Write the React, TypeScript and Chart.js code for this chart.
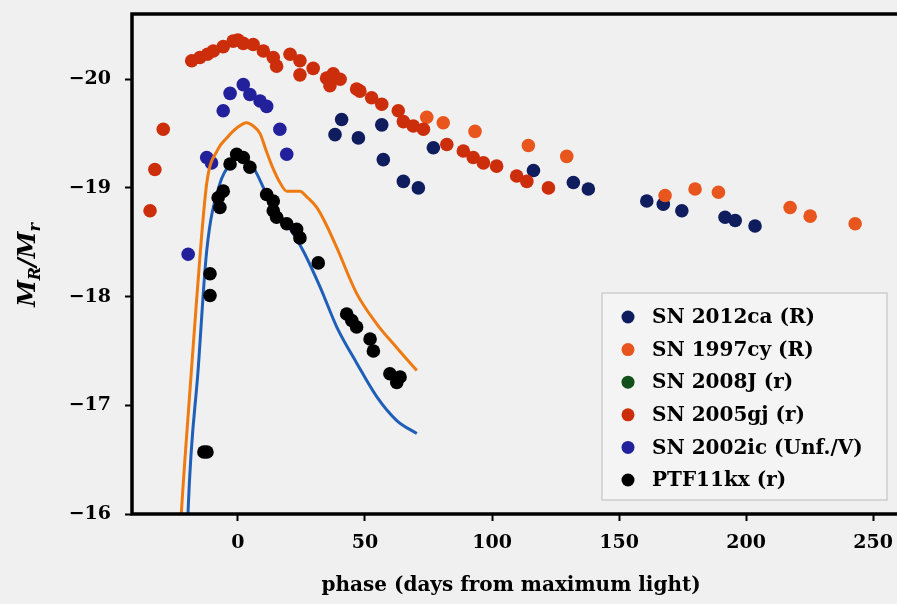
import React, { useEffect, useRef } from "react";
import { Chart, registerables } from "chart.js";

Chart.register(...registerables);

// Axis ticks
const X_TICKS = [0, 50, 100, 150, 200, 250];
const Y_TICKS = [-20, -19, -18, -17, -16];

// SN 2012ca (R)
const SN2012CA_PHASE = [38.2, 40.8, 47.4, 56.6, 57.2, 65.1, 71.0, 76.9, 116.3, 132.0, 137.9, 160.9, 167.4, 174.7, 191.7, 195.7, 203.5];
const SN2012CA_MAG = [-19.49, -19.63, -19.46, -19.58, -19.26, -19.06, -19.0, -19.37, -19.16, -19.05, -18.99, -18.88, -18.85, -18.79, -18.73, -18.7, -18.65];

// SN 1997cy (R)
const SN1997CY_PHASE = [74.3, 80.8, 93.3, 114.3, 129.4, 168.1, 179.9, 189.1, 217.3, 225.2, 242.9];
const SN1997CY_MAG = [-19.65, -19.6, -19.52, -19.39, -19.29, -18.93, -18.99, -18.96, -18.82, -18.74, -18.67];

// SN 2008J (r)
const SN2008J_PHASE: number[] = [];
const SN2008J_MAG: number[] = [];

// SN 2005gj (r)
const SN2005GJ_PHASE = [
  -34.6, -32.7, -29.4, -18.2, -15.0, -12.0, -9.7, -5.8, -1.9, 0.0, 2.1, 6.0, 10.0, 13.9, 15.2, 20.5, 24.4, 24.4,
  29.6, 34.9, 36.2, 37.5, 40.2, 46.7, 48.0, 52.6, 56.6, 63.1, 65.1, 69.0, 73.0, 82.2, 88.7, 92.6, 96.6, 101.8,
  109.7, 113.7, 122.2,
];
const SN2005GJ_MAG = [
  -18.79, -19.17, -19.54, -20.17, -20.2, -20.23, -20.26, -20.3, -20.35, -20.36, -20.33, -20.32, -20.26, -20.2,
  -20.12, -20.23, -20.17, -20.04, -20.1, -20.01, -19.94, -20.05, -20.0, -19.91, -19.89, -19.83, -19.77, -19.71,
  -19.61, -19.57, -19.54, -19.4, -19.34, -19.28, -19.23, -19.2, -19.11, -19.06, -19.0,
];

// SN 2002ic (Unf./V)
const SN2002IC_PHASE = [-19.6, -12.3, -10.4, -5.8, -3.1, 2.1, 4.7, 8.7, 11.3, 16.5, 19.2];
const SN2002IC_MAG = [-18.39, -19.28, -19.23, -19.71, -19.87, -19.95, -19.86, -19.8, -19.75, -19.54, -19.31];

// PTF11kx (r)
const PTF11KX_PHASE = [
  -13.4, -12.2, -11.0, -11.0, -7.8, -7.1, -5.8, -3.1, -0.5, 2.1, 4.7, 11.3, 13.9, 13.9, 15.2, 19.2, 23.1, 24.4,
  31.6, 42.8, 44.8, 46.7, 52.0, 53.3, 59.8, 62.5, 63.8,
];
const PTF11KX_MAG = [
  -16.57, -16.57, -18.21, -18.01, -18.91, -18.82, -18.97, -19.22, -19.31, -19.28, -19.19, -18.94, -18.88, -18.79,
  -18.73, -18.67, -18.62, -18.54, -18.31, -17.84, -17.78, -17.72, -17.61, -17.5, -17.29, -17.21, -17.26,
];

// Model light curves
const MODEL_A_PHASE = [-23, -22.2, -19, -16.3, -12.3, -8, -4.4, 0, 3.4, 6, 8.7, 11, 13.8, 16.5, 19.2, 24.4, 27, 31, 35, 38.9, 46.7, 54.6, 62.5, 70.4];
const MODEL_A_MAG = [-15.7, -16.04, -17.1, -17.96, -19.04, -19.35, -19.46, -19.56, -19.6, -19.57, -19.5, -19.35, -19.18, -19.05, -18.97, -18.97, -18.92, -18.82, -18.65, -18.45, -18.03, -17.75, -17.53, -17.32];
const MODEL_B_PHASE = [-20, -19.6, -15.6, -12.3, -7.1, -1.9, 0.8, 6, 12.6, 19.2, 25.7, 32.3, 38.9, 46.7, 54.6, 62.5, 70.4];
const MODEL_B_MAG = [-15.7, -16.04, -17.35, -18.42, -19.04, -19.25, -19.31, -19.19, -18.88, -18.67, -18.42, -18.09, -17.72, -17.39, -17.08, -16.86, -16.74];

const SERIF = "'DejaVu Serif', serif";
const BG = "#f0f0f0";

const pts = (xs: number[], ys: number[]) => xs.map((x, i) => ({ x, y: ys[i] }));
const fmt = (v: number) => (v < 0 ? "\u2212" + Math.abs(v) : String(v));

const scatter = (label: string, color: string, xs: number[], ys: number[], order: number) => ({
  type: "scatter" as const,
  label,
  data: pts(xs, ys),
  backgroundColor: color,
  borderColor: color,
  borderWidth: 0,
  pointRadius: 6.8,
  pointHoverRadius: 6.8,
  order,
});

const line = (color: string, xs: number[], ys: number[], order: number) => ({
  type: "line" as const,
  label: "",
  data: pts(xs, ys),
  borderColor: color,
  backgroundColor: color,
  borderWidth: 3,
  pointRadius: 0,
  cubicInterpolationMode: "monotone" as const,
  fill: false,
  order,
});

const background = {
  id: "background",
  beforeDraw(chart: any) {
    const { ctx, width, height } = chart;
    ctx.save();
    ctx.fillStyle = BG;
    ctx.fillRect(0, 0, width, height);
    ctx.restore();
  },
};

const frame = {
  id: "frame",
  afterDatasetsDraw(chart: any) {
    const { ctx, chartArea, width } = chart;
    ctx.save();
    ctx.strokeStyle = "#000";
    ctx.lineWidth = 3.5;
    ctx.lineCap = "square";
    ctx.beginPath();
    ctx.moveTo(width, chartArea.top);
    ctx.lineTo(chartArea.left, chartArea.top);
    ctx.lineTo(chartArea.left, chartArea.bottom);
    ctx.lineTo(width, chartArea.bottom);
    ctx.stroke();
    ctx.restore();
  },
};

const yTitle = {
  id: "yTitle",
  afterDraw(chart: any) {
    const ctx = chart.ctx;
    const parts = [
      { t: "M", sub: false },
      { t: "R", sub: true },
      { t: "/", sub: false },
      { t: "M", sub: false },
      { t: "r", sub: true },
    ];
    const big = `italic bold 24px ${SERIF}`;
    const small = `italic bold 16px ${SERIF}`;
    ctx.save();
    let total = 0;
    for (const p of parts) {
      ctx.font = p.sub ? small : big;
      total += ctx.measureText(p.t).width;
    }
    ctx.translate(30, 265);
    ctx.rotate(-Math.PI / 2);
    ctx.fillStyle = "#000";
    ctx.textBaseline = "alphabetic";
    let u = -total / 2;
    for (const p of parts) {
      ctx.font = p.sub ? small : big;
      ctx.fillText(p.t, u, p.sub ? 10 : 5);
      u += ctx.measureText(p.t).width;
    }
    ctx.restore();
  },
};

const legendBox = {
  id: "legendBox",
  afterDraw(chart: any) {
    const ctx = chart.ctx;
    const items = chart.data.datasets.filter((d: any) => d.type === "scatter");
    const order = ["SN 2012ca (R)", "SN 1997cy (R)", "SN 2008J (r)", "SN 2005gj (r)", "SN 2002ic (Unf./V)", "PTF11kx (r)"];
    items.sort((a: any, b: any) => order.indexOf(a.label) - order.indexOf(b.label));
    ctx.save();
    ctx.fillStyle = "rgba(244,244,244,0.85)";
    ctx.strokeStyle = "#cdcdcd";
    ctx.lineWidth = 1.5;
    ctx.beginPath();
    ctx.rect(602, 293, 285, 207);
    ctx.fill();
    ctx.stroke();
    ctx.font = `bold 20px ${SERIF}`;
    ctx.textBaseline = "middle";
    ctx.textAlign = "left";
    items.forEach((d: any, i: number) => {
      const cy = 317 + i * 32.6;
      ctx.fillStyle = d.backgroundColor;
      ctx.beginPath();
      ctx.arc(628, cy, 6.5, 0, Math.PI * 2);
      ctx.fill();
      ctx.fillStyle = "#000";
      ctx.fillText(d.label, 652, cy + 1);
    });
    ctx.restore();
  },
};

export default function App() {
  const ref = useRef<HTMLCanvasElement>(null);

  useEffect(() => {
    const canvas = ref.current;
    if (!canvas) return;
    const chart = new Chart(canvas, {
      data: {
        datasets: [
          scatter("PTF11kx (r)", "#000000", PTF11KX_PHASE, PTF11KX_MAG, 0),
          line("#ee7a12", MODEL_A_PHASE, MODEL_A_MAG, 1),
          line("#1f5fb8", MODEL_B_PHASE, MODEL_B_MAG, 2),
          scatter("SN 2002ic (Unf./V)", "#23209c", SN2002IC_PHASE, SN2002IC_MAG, 3),
          scatter("SN 2005gj (r)", "#cc2e0c", SN2005GJ_PHASE, SN2005GJ_MAG, 4),
          scatter("SN 2008J (r)", "#12501a", SN2008J_PHASE, SN2008J_MAG, 5),
          scatter("SN 1997cy (R)", "#e8561d", SN1997CY_PHASE, SN1997CY_MAG, 6),
          scatter("SN 2012ca (R)", "#0f1c5e", SN2012CA_PHASE, SN2012CA_MAG, 7),
        ] as any,
      },
      options: {
        animation: false,
        responsive: false,
        devicePixelRatio: 1,
        layout: { padding: { top: 14, right: 0, left: 0, bottom: 0 } },
        plugins: {
          legend: { display: false },
          tooltip: { enabled: false },
        },
        scales: {
          x: {
            type: "linear",
            min: -41.7,
            max: 256.7,
            afterFit(s: any) {
              s.height = 90;
              s.paddingLeft = 0;
              s.paddingRight = 0;
            },
            afterBuildTicks(s: any) {
              s.ticks = X_TICKS.map((v) => ({ value: v }));
            },
            grid: { drawOnChartArea: false, drawTicks: true, tickLength: 7, tickWidth: 2, tickColor: "#000" },
            border: { display: false },
            ticks: {
              color: "#000",
              font: { family: SERIF, size: 19, weight: "bold" },
              padding: 11,
              maxRotation: 0,
              callback: (v: any) => fmt(Number(v)),
            },
            title: {
              display: true,
              text: "phase (days from maximum light)",
              color: "#000",
              font: { family: SERIF, size: 20, weight: "bold" },
              padding: { top: 0, bottom: 6 },
            },
          },
          y: {
            type: "linear",
            reverse: true,
            min: -20.6,
            max: -16,
            afterFit(s: any) {
              s.width = 132;
              s.paddingTop = 0;
              s.paddingBottom = 0;
            },
            afterBuildTicks(s: any) {
              s.ticks = Y_TICKS.map((v) => ({ value: v }));
            },
            grid: { drawOnChartArea: false, drawTicks: true, tickLength: 7, tickWidth: 2, tickColor: "#000" },
            border: { display: false },
            ticks: {
              color: "#000",
              font: { family: SERIF, size: 19, weight: "bold" },
              padding: 14,
              callback: (v: any) => fmt(Number(v)),
            },
          },
        },
      },
      plugins: [background, frame, yTitle, legendBox],
    } as any);
    return () => chart.destroy();
  }, []);

  return (
    <div style={{ position: "absolute", left: 0, top: 0, width: 897, height: 604 }}>
      <canvas ref={ref} width={897} height={604} style={{ display: "block" }} />
    </div>
  );
}
